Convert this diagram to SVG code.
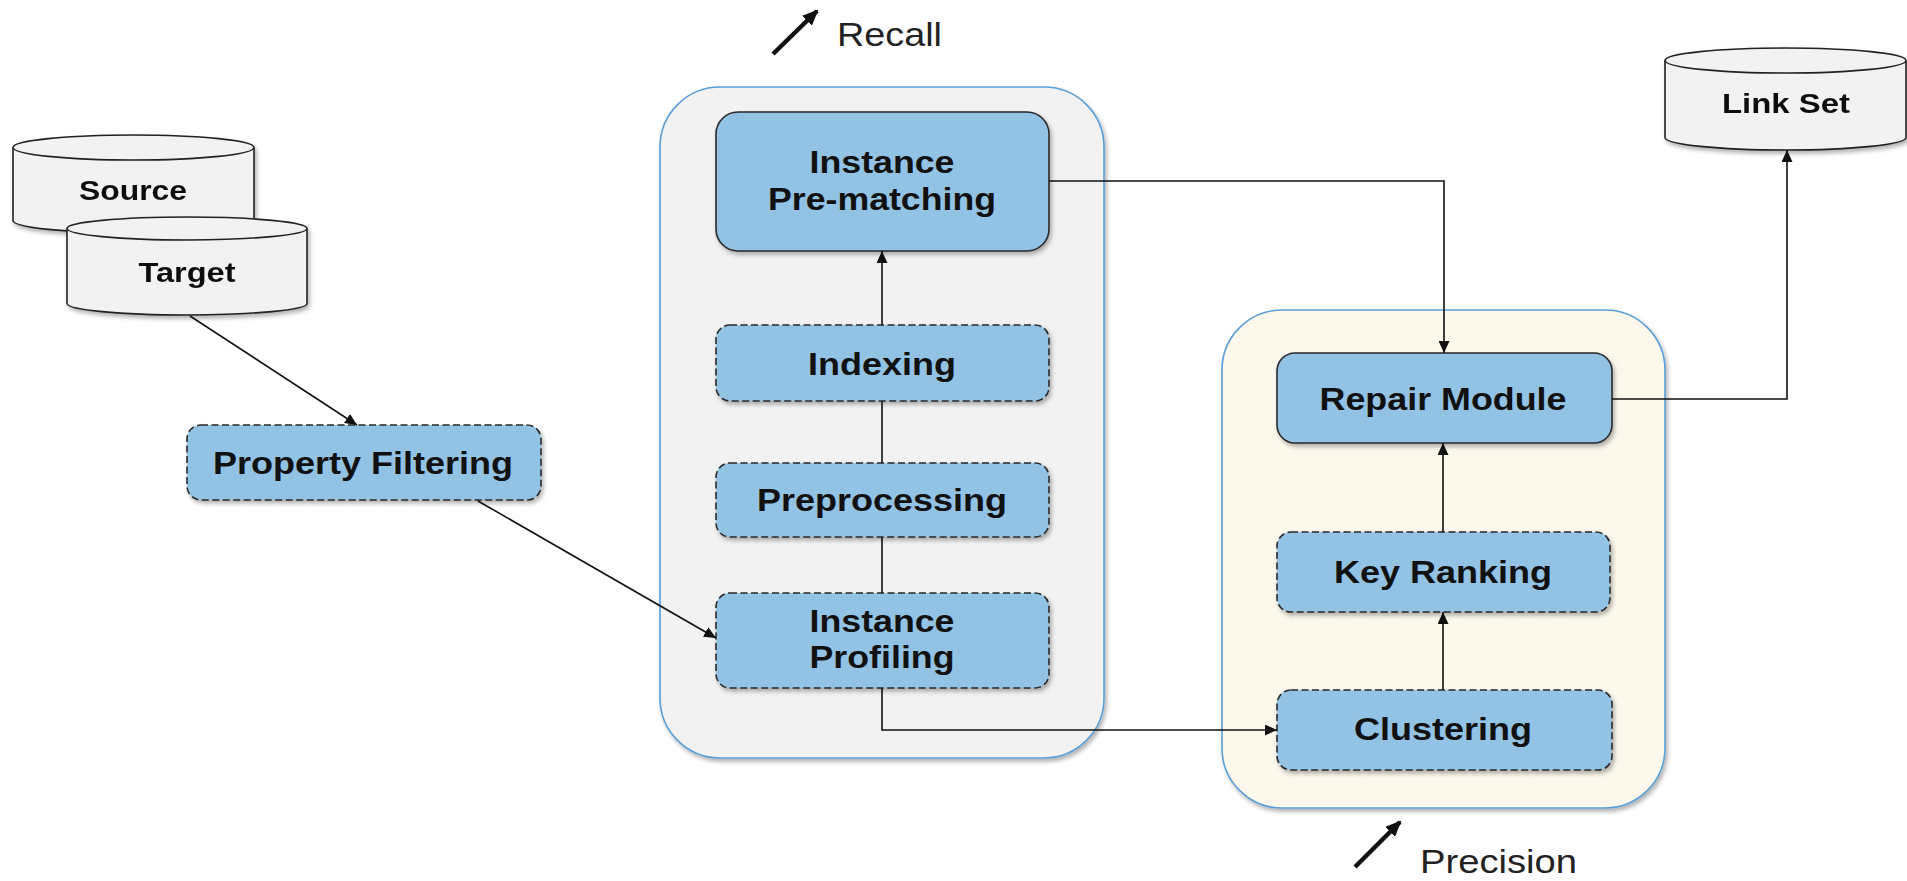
<svg xmlns="http://www.w3.org/2000/svg" width="1907" height="881" viewBox="0 0 1907 881">
<defs>
<marker id="ah" markerUnits="userSpaceOnUse" markerWidth="12" markerHeight="11" refX="12" refY="5.5" orient="auto"><path d="M0,0 L12,5.5 L0,11 z" fill="#111"/></marker>
<marker id="ahb" markerUnits="userSpaceOnUse" markerWidth="16" markerHeight="14" refX="14" refY="7" orient="auto"><path d="M0,0 L16,7 L0,14 z" fill="#111"/></marker>
<filter id="sh" x="-10%" y="-10%" width="130%" height="140%"><feDropShadow dx="2" dy="3" stdDeviation="2" flood-color="#000" flood-opacity="0.3"/></filter>
<style>
.lbl{font-family:"Liberation Sans",Arial,sans-serif;font-weight:bold;font-size:32px;fill:#111;text-anchor:middle}
.cl{font-family:"Liberation Sans",Arial,sans-serif;font-weight:bold;font-size:28px;fill:#111;text-anchor:middle}
.ann{font-family:"Liberation Sans",Arial,sans-serif;font-size:34px;fill:#222}
.node{fill:#92c2e4;stroke:#2a2a2a;stroke-width:1.6;filter:url(#sh)}
.dash{stroke-dasharray:7 3.5}
.cyl{fill:#f2f2f2;stroke:#222;stroke-width:1.6}
.con{fill:none;stroke:#111;stroke-width:1.6}
.cont{stroke:#5b9fd6;stroke-width:1.6;filter:url(#sh)}
</style>
</defs>

<g id="recall-group">
<rect x="660" y="87" width="444" height="671" rx="60" fill="#f2f2f2" class="cont"/>
</g>
<g id="precision-group">
<rect x="1222" y="310" width="443" height="498" rx="60" fill="#fcf8ec" class="cont"/>
</g>

<g id="source" filter="url(#sh)">
<path class="cyl" d="M13,147.5 L13,220.5 A120.5,12.5 0 0 0 254,220.5 L254,147.5"/>
<ellipse class="cyl" cx="133.5" cy="147.5" rx="120.5" ry="12.5"/>
<text class="cl" x="133" y="200" textLength="108" lengthAdjust="spacingAndGlyphs">Source</text>
</g>
<g id="target" filter="url(#sh)">
<path class="cyl" d="M67,228.5 L67,303.5 A120,11.5 0 0 0 307,303.5 L307,228.5"/>
<ellipse class="cyl" cx="187" cy="228.5" rx="120" ry="11.5"/>
<text class="cl" x="187" y="282" textLength="97" lengthAdjust="spacingAndGlyphs">Target</text>
</g>
<g id="linkset" filter="url(#sh)">
<path class="cyl" d="M1665,60.5 L1665,137.5 A120.5,12.5 0 0 0 1906,137.5 L1906,60.5"/>
<ellipse class="cyl" cx="1785.5" cy="60.5" rx="120.5" ry="12.5"/>
<text class="cl" x="1786" y="113" textLength="128" lengthAdjust="spacingAndGlyphs">Link Set</text>
</g>

<g id="property-filtering">
<rect class="node dash" x="187" y="425" width="354" height="75" rx="14"/>
<text class="lbl" x="363" y="474" textLength="300" lengthAdjust="spacingAndGlyphs">Property Filtering</text>
</g>
<g id="instance-prematching">
<rect class="node" x="716" y="112" width="333" height="139" rx="22"/>
<text class="lbl" x="882" y="173" textLength="145" lengthAdjust="spacingAndGlyphs">Instance</text>
<text class="lbl" x="882" y="210" textLength="228" lengthAdjust="spacingAndGlyphs">Pre-matching</text>
</g>
<g id="indexing">
<rect class="node dash" x="716" y="325" width="333" height="76" rx="14"/>
<text class="lbl" x="882" y="375" textLength="148" lengthAdjust="spacingAndGlyphs">Indexing</text>
</g>
<g id="preprocessing">
<rect class="node dash" x="716" y="463" width="333" height="74" rx="14"/>
<text class="lbl" x="882" y="511" textLength="250" lengthAdjust="spacingAndGlyphs">Preprocessing</text>
</g>
<g id="instance-profiling">
<rect class="node dash" x="716" y="593" width="333" height="95" rx="14"/>
<text class="lbl" x="882" y="632" textLength="145" lengthAdjust="spacingAndGlyphs">Instance</text>
<text class="lbl" x="882" y="668" textLength="145" lengthAdjust="spacingAndGlyphs">Profiling</text>
</g>
<g id="repair-module">
<rect class="node" x="1277" y="353" width="335" height="90" rx="18"/>
<text class="lbl" x="1443" y="410" textLength="247" lengthAdjust="spacingAndGlyphs">Repair Module</text>
</g>
<g id="key-ranking">
<rect class="node dash" x="1277" y="532" width="333" height="80" rx="14"/>
<text class="lbl" x="1443" y="583" textLength="218" lengthAdjust="spacingAndGlyphs">Key Ranking</text>
</g>
<g id="clustering">
<rect class="node dash" x="1277" y="690" width="335" height="80" rx="14"/>
<text class="lbl" x="1443" y="740" textLength="178" lengthAdjust="spacingAndGlyphs">Clustering</text>
</g>

<g id="annotations">
<line x1="773" y1="54" x2="817" y2="11" stroke="#111" stroke-width="4.5" marker-end="url(#ahb)"/>
<text class="ann" x="837" y="46" textLength="105" lengthAdjust="spacingAndGlyphs">Recall</text>
<line x1="1355" y1="867" x2="1400" y2="822" stroke="#111" stroke-width="4.5" marker-end="url(#ahb)"/>
<text class="ann" x="1420" y="873" textLength="157" lengthAdjust="spacingAndGlyphs">Precision</text>
</g>

<g id="connectors">
<line class="con" x1="190" y1="316" x2="357" y2="425" marker-end="url(#ah)"/>
<line class="con" x1="478" y1="501" x2="716" y2="638" marker-end="url(#ah)"/>
<line class="con" x1="882" y1="593" x2="882" y2="537"/>
<line class="con" x1="882" y1="463" x2="882" y2="401"/>
<line class="con" x1="882" y1="325" x2="882" y2="251" marker-end="url(#ah)"/>
<polyline class="con" points="1049,181 1444,181 1444,353" marker-end="url(#ah)"/>
<polyline class="con" points="882,688 882,730 1277,730" marker-end="url(#ah)"/>
<line class="con" x1="1443" y1="690" x2="1443" y2="612" marker-end="url(#ah)"/>
<line class="con" x1="1443" y1="532" x2="1443" y2="443" marker-end="url(#ah)"/>
<polyline class="con" points="1612,399 1787,399 1787,150" marker-end="url(#ah)"/>
</g>
</svg>
